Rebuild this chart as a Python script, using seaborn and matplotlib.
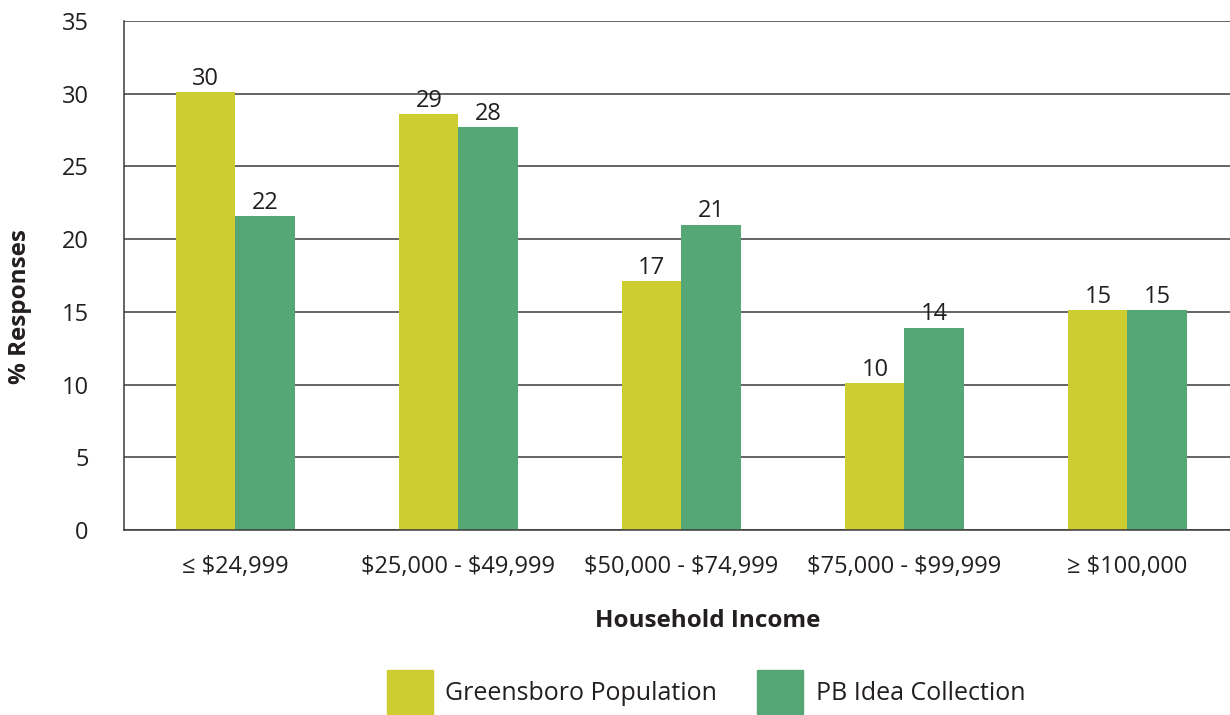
import pandas as pd
import matplotlib.pyplot as plt
import seaborn as sns

# data
income = ['≤ $24,999', '$25,000 - $49,999', '$50,000 - $74,999', '$75,000 - $99,999', '≥ $100,000']
greensboro = [30.1, 28.6, 17.1, 10.1, 15.1]
pb_ideas = [21.6, 27.7, 21.0, 13.9, 15.1]
groups = ['Greensboro Population', 'PB Idea Collection']
colors = ['#CDCD32', '#55A876']

df = pd.DataFrame({
    'Household Income': income * 2,
    'Share': greensboro + pb_ideas,
    'Group': [groups[0]] * len(income) + [groups[1]] * len(income),
})

sns.set_style('white')
plt.rcParams['font.family'] = ['Open Sans', 'DejaVu Sans']
plt.rcParams['text.parse_math'] = False
text_color = '#231F20'
fs = 17

fig = plt.figure(figsize=(12.3, 7.15), dpi=100)
ax = fig.add_axes([0.1008, 0.2587, 0.9065, 0.7119])

sns.barplot(data=df, x='Household Income', y='Share', hue='Group',
            palette=colors, width=0.53, saturation=1, linewidth=0,
            edgecolor='none', ax=ax, legend=False)

for cont in ax.containers:
    ax.bar_label(cont, fmt='%.0f', padding=1, fontsize=fs, color=text_color)

# y axis and grid
ax.set_ylim(0, 35)
ax.set_yticks(range(0, 36, 5))
ax.yaxis.grid(True, color='#3a3a3a', linewidth=1.1)
ax.set_axisbelow(True)
ax.tick_params(axis='y', direction='out', length=8.5, width=1, color='#3a3a3a',
               labelsize=fs, labelcolor=text_color, pad=17)

# x axis: ticks sit between categories
ax.set_xlim(-0.5, 4.5)
ax.set_xticks([i - 0.5 for i in range(len(income) + 1)])
ax.set_xticklabels([])
ax.set_xticks(range(len(income)), minor=True)
ax.set_xticklabels(income, minor=True, fontsize=fs)
ax.tick_params(axis='x', which='major', direction='inout', length=13, width=1, color='#3a3a3a')
ax.tick_params(axis='x', which='minor', length=0, labelsize=fs, labelcolor=text_color, pad=18)

for side in ['top', 'right']:
    ax.spines[side].set_visible(False)
for side in ['left', 'bottom']:
    ax.spines[side].set_color('#3a3a3a')
    ax.spines[side].set_linewidth(1.1)

ax.set_xlabel('')
ax.set_ylabel('')
fig.text(708 / 1230, 1 - 621 / 715, 'Household Income', ha='center', va='center',
         fontsize=17.5, fontweight='bold', color=text_color)
fig.text(20 / 1230, 1 - 307 / 715, '% Responses', ha='center', va='center',
         rotation=90, fontsize=17.5, fontweight='bold', color=text_color)

handles = [plt.Rectangle((0, 0), 1, 1, color=c) for c in colors]
fig.legend(handles, groups, loc='center', bbox_to_anchor=(706 / 1230, 1 - 692 / 715),
           ncol=2, frameon=False, fontsize=18, handlelength=1.85, handleheight=2.3,
           handletextpad=0.5, columnspacing=1.6, labelcolor=text_color)

fig.savefig('out.png', dpi=100)
